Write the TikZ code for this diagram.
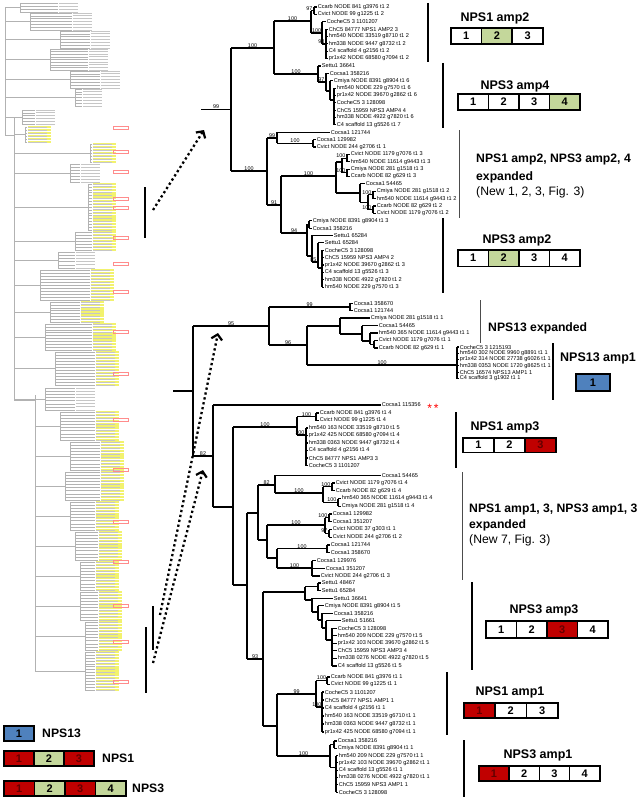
\documentclass[tikz,border=0pt]{standalone}
\usepackage{fontspec}
\setmainfont{Liberation Sans}
\usetikzlibrary{arrows.meta}
\definecolor{cgreen}{RGB}{196,215,155}
\definecolor{cred}{RGB}{192,0,0}
\definecolor{cblue}{RGB}{79,129,189}
\definecolor{dred}{RGB}{100,0,0}
\definecolor{ovy}{RGB}{242,242,110}
\newcounter{nid}
\tikzset{
  br/.style={line width=1.1pt},
  tb/.style={line width=2pt},
  lf/.style={anchor=west,inner sep=0.7pt,font=\fontsize{5.6}{5.6}\selectfont},
  bsl/.style={anchor=south,inner sep=0.4pt,font=\fontsize{5.4}{5.4}\selectfont},
  bse/.style={anchor=south east,inner sep=0.4pt,font=\fontsize{5.4}{5.4}\selectfont},
  ttl/.style={inner sep=0pt,font=\bfseries\fontsize{12.5}{14}\selectfont},
  txt/.style={inner sep=0pt,anchor=west,font=\bfseries\fontsize{12.2}{14}\selectfont},
  ntxt/.style={inner sep=0pt,anchor=west,font=\fontsize{12.2}{14}\selectfont},
  cell/.style={draw=black,line width=1.7pt,inner sep=0pt,anchor=north west,font=\bfseries\fontsize{11}{11}\selectfont},
  ov/.style={draw=gray!60,line width=0.35pt},
  thinbar/.style={draw=gray!60!black,line width=1pt},
  thickbar/.style={draw=black,line width=2.6pt},
  darr/.style={line width=2.3pt,dash pattern=on 2.3pt off 2.7pt,-{Straight Barb[length=5pt,width=11pt,line width=2.2pt]}},
}
\newcommand\Nx{\stepcounter{nid}}
\newcommand\Hb[3]{\draw[br] (#1,#3) -- (#2,#3);}
\newcommand\Hbl[4]{\draw[br] (#1,#3) -- (#2,#3); \Nx\node[bsl] (b\arabic{nid}) at ({(#1+#2)/2},#3) {#4};}
\newcommand\Vb[3]{\draw[br] (#1,#2) -- (#1,#3);}
\newcommand\Bl[3]{\Nx\node[bse] (b\arabic{nid}) at (#1,#2) {#3};}
\newcommand\Lf[4]{\draw[br] (#1,#2) -- (#3,#2); \Nx\node[lf] (l\arabic{nid}) at (#3,#2) {#4};}
\newcommand\Pair[6]{\draw[br] (#1,#2) -- (#1,#3); \Lf{#1}{#2}{#4}{#5}\Lf{#1}{#3}{#4}{#6}}
\newcommand\Tv[6]{\draw[tb] (#1,#2) -- (#1,#3);
  \foreach \tx [count=\i from 0] in {#6} {\pgfmathsetmacro\yy{#2+(#3-#2)*\i/(#5-1)}\Lf{#1}{\yy}{#4}{\tx}}}
\newcommand\Ovc[7]{%
  \pgfmathsetmacro\ovm{(#3+#4)/2}
  \draw[ov] (#1,\ovm) -- (#2,\ovm);
  \draw[ov] (#2,#3) -- (#2,#4);
  \pgfmathtruncatemacro\ovn{#6-1}
  \foreach \k in {0,...,\ovn} {
    \pgfmathsetmacro\yy{#3+(#4-#3)*\k/\ovn}
    \draw[ov] (#2,\yy) -- (#5,\yy);
    \ifnum#7=1 \fill[ovy] (#5+1,\yy-1.1) rectangle (#5+24,\yy+1.1);\fi
    \fill[gray!45] (#5+1,\yy-0.4) rectangle (#5+20,\yy+0.4);
  }}
\newcommand\Cellrow[6]{\foreach \f/\d/\c [count=\i] in {#6} {\node[cell,fill=\f,text=\c,minimum width=#4pt,minimum height=#5pt] (#1\i) at ({#2+(\i-1)*#4},#3) {\d};}}
\begin{document}
\begin{tikzpicture}[x=1pt,y=-1pt]
\useasboundingbox (0,0) rectangle (642,800);
% ================= overview tree =================
\draw[ov] (5,7) -- (5,135) -- (14,135);
\draw[ov] (14,118) -- (14,400) -- (35,400);
\draw[ov] (35,395) -- (35,671);
\Ovc{5}{20}{3}{12}{58}{4}{0}
\Ovc{5}{30}{13}{30}{72}{7}{0}
\Ovc{5}{60}{31}{48}{90}{7}{0}
\Ovc{5}{50}{49}{70}{88}{9}{0}
\Ovc{5}{70}{71}{88}{100}{7}{0}
\Ovc{5}{75}{89}{106}{82}{7}{0}
\Ovc{5}{22}{110}{124}{35}{6}{0}
\Ovc{14}{25}{127}{142}{27}{6}{1}
\Ovc{14}{90}{144}{162}{92}{7}{1}
\Ovc{14}{70}{164}{182}{80}{7}{0}
\Ovc{14}{88}{184}{230}{92}{17}{1}
\Ovc{14}{75}{232}{250}{92}{7}{1}
\Ovc{14}{58}{252}{268}{75}{6}{0}
\Ovc{14}{40}{270}{300}{90}{11}{1}
\Ovc{14}{50}{302}{322}{80}{8}{1}
\Ovc{14}{45}{324}{350}{92}{10}{1}
\Ovc{14}{55}{352}{385}{95}{12}{1}
\Ovc{14}{45}{388}{410}{75}{8}{0}
\Ovc{35}{60}{412}{440}{95}{10}{1}
\Ovc{35}{70}{442}{470}{100}{10}{1}
\Ovc{35}{65}{472}{500}{100}{10}{1}
\Ovc{35}{70}{502}{530}{95}{10}{1}
\Ovc{35}{75}{532}{560}{98}{10}{1}
\Ovc{35}{80}{562}{590}{95}{10}{1}
\Ovc{35}{80}{592}{620}{98}{10}{1}
\Ovc{35}{85}{622}{650}{98}{10}{1}
\Ovc{35}{85}{652}{690}{95}{14}{1}
\foreach \yy in {126,150,170,197,206,236,262,290,330,372,418,468,520,560,604,640,680}
  \draw[red!45,line width=0.3pt] (113,\yy) rectangle (128,\yy+3.5);
% ================= marker bars and arrows =================
\draw[thickbar] (145,187) -- (145,238);
\draw[thickbar] (153,606) -- (153,650);
\draw[thickbar] (146,627) -- (146,693);
\coordinate (a1s) at (153,210); \coordinate (a1e) at (204,130);
\coordinate (a2s) at (160,615); \coordinate (a2e) at (218,333);
\coordinate (a3s) at (153,663); \coordinate (a3e) at (203,470);
\draw[darr] (a1s) -- (a1e);
\draw[darr] (a2s) -- (a2e);
\draw[darr] (a3s) -- (a3e);
% ================= top subtree =================
\Hbl{201}{231}{109.5}{99}
\Vb{231}{48}{171}
\Hbl{231}{274}{48}{100}
\Vb{274}{21}{74}
\Hbl{274}{311}{21}{100}
\Vb{311}{10.7}{33}
\Hb{311}{314}{10.7}\Bl{313}{10.7}{97}
\Pair{314}{7}{14.37}{317}{Ccarb NODE 841 g3976 t1 2}{Cvict NODE 99 g1225 t1 2}
\Hbl{311}{322}{33}{100}
\Vb{322}{21.74}{44}
\Lf{322}{21.74}{326}{CocheC5 3 1101207}
\Hb{322}{326}{44}\Bl{325}{44}{93}
\Tv{326}{29.11}{58.59}{328}{5}{ChC5 84777 NPS1 AMP2 3,hm540 NODE 33519 g8710 t1 2,hm338 NODE 9447 g8732 t1 2,C4 scaffold 4 g2156 t1 2,pr1x42 NODE 68580 g7094 t1 2}
\Hbl{274}{318}{74}{100}
\Vb{318}{65.96}{82}
\Lf{318}{65.96}{321}{Settu1 36641}
\Hb{318}{326}{82}\Bl{325}{82}{97}
\Vb{326}{73.33}{91}
\Lf{326}{73.33}{329}{Cocsa1 358216}
\Hb{326}{330}{91}
\Vb{330}{80.7}{100}
\Lf{330}{80.7}{333}{Cmiya NODE 8391 g8904 t1 6}
\Hb{330}{334}{100}
\Tv{334}{88.07}{124.92}{336}{6}{hm540 NODE 229 g7570 t1 6,pr1x42 NODE 39670 g2862 t1 6,CocheC5 3 128098,ChC5 15959 NPS3 AMP4 4,hm338 NODE 4922 g7820 t1 6,C4 scaffold 13 g5526 t1 7}
\Hbl{231}{267}{171}{100}
\Vb{267}{138}{205}
\Hbl{267}{277}{138}{99}
\Vb{277}{132.29}{143.3}
\Lf{277}{132.29}{330}{Cocsa1 121744}
\Hbl{277}{313}{143.3}{100}
\Pair{313}{139.66}{147.03}{316}{Cocsa1 129982}{Cvict NODE 244 g2706 t1 1}
\Hbl{267}{281}{205}{91}
\Vb{281}{176}{233}
\Hbl{281}{336}{176}{100}
\Vb{336}{162}{193}
\Hb{336}{342}{162}
\Vb{342}{158.1}{172.8}
\Hb{342}{347}{158.1}\Bl{346}{158.1}{100}
\Pair{347}{154.4}{161.77}{350}{Cvict NODE 1179 g7076 t1 3}{hm540 NODE 11614 g9443 t1 3}
\Hb{342}{347}{172.8}\Bl{346}{172.8}{100}
\Pair{347}{169.14}{176.51}{350}{Cmiya NODE 281 g1518 t1 3}{Ccarb NODE 82 g629 t1 3}
\Hb{336}{360}{193}
\Vb{360}{183.88}{202.3}
\Lf{360}{183.88}{365}{Cocsa1 54465}
\Hb{360}{368}{202.3}
\Vb{368}{194.9}{209.7}
\Hb{368}{373}{194.9}\Bl{372}{194.9}{100}
\Pair{373}{191.25}{198.62}{376}{Cmiya NODE 281 g1518 t1 2}{hm540 NODE 11614 g9443 t1 2}
\Hb{368}{373}{209.7}\Bl{372}{209.7}{100}
\Pair{373}{205.99}{213.36}{376}{Ccarb NODE 82 g629 t1 2}{Cvict NODE 1179 g7076 t1 2}
\Hbl{281}{307}{233}{94}
\Vb{307}{224.4}{256}
\Hb{307}{309}{224.4}
\Pair{309}{220.73}{228.1}{312}{Cmiya NODE 8391 g8904 t1 3}{Cocsa1 358216}
\Hb{307}{312}{256}
\Vb{312}{235.47}{262}
\Lf{312}{235.47}{333}{Settu1 65284}
\Hb{312}{318}{262}\Bl{317}{262}{85}
\Vb{318}{242.84}{268}
\Lf{318}{242.84}{324}{Settu1 65284}
\Hb{318}{322}{268}
\Tv{322}{250.21}{287.06}{324}{6}{CocheC5 3 128098,ChC5 15959 NPS3 AMP4 2,pr1x42 NODE 39670 g2862 t1 3,C4 scaffold 13 g5526 t1 3,hm338 NODE 4922 g7820 t1 2,hm540 NODE 229 g7570 t1 3}
% ================= bottom subtree =================
\Hb{173}{193}{391}
\Vb{193}{326}{456}
\Hbl{193}{269}{326}{95}
\Vb{269}{307}{345}
\Hbl{269}{350}{307}{99}
\Pair{350}{303.3}{310.7}{353}{Cocsa1 358670}{Cocsa1 121744}
\Hbl{269}{307}{345}{96}
\Vb{307}{326}{365}
\Hb{307}{340}{326}
\Vb{340}{318}{334}
\Lf{340}{318}{370}{Cmiya NODE 281 g1518 t1 1}
\Hb{340}{362}{334}
\Vb{362}{325.5}{341}
\Lf{362}{325.5}{378}{Cocsa1 54465}
\Hb{362}{370}{341}
\Vb{370}{333}{344.2}
\Lf{370}{333}{378}{hm540 365 NODE 11614 g9443 t1 1}
\Hb{370}{374}{344.2}
\Pair{374}{340.5}{348}{378}{Cvict NODE 1179 g7076 t1 1}{Ccarb NODE 82 g629 t1 1}
\Hbl{307}{457}{365}{100}
\Tv{457}{347}{378.5}{459}{6}{CocheC5 3 1215193,hm540 302 NODE 9960 g8891 t1 1,pr1x42 314 NODE 27738 g6026 t1 1,hm338 0353 NODE 1720 g8625 t1 1,ChC5 16574 NPS13 AMP1 1,C4 scaffold 3 g1902 t1 1}
\Hbl{193}{213}{456}{82}
\Vb{213}{405}{507}
\Lf{213}{405}{381}{Cocsa1 115356}
\node[text=red,inner sep=0pt,font=\fontsize{12}{12}\selectfont] (ast) at (433,408) {*\,*};
\Hb{213}{233}{507}
\Vb{233}{427}{585}
\Hbl{233}{297}{427}{100}
\Vb{297}{416.7}{435}
\Hbl{297}{316}{416.7}{100}
\Pair{316}{413}{420.5}{319}{Ccarb NODE 841 g3976 t1 4}{Cvict NODE 99 g1225 t1 4}
\Hb{297}{306}{435}\Bl{305}{435}{100}
\Tv{306}{428}{465.5}{308}{6}{hm540 163 NODE 33519 g8710 t1 5,pr1x42 425 NODE 68580 g7094 t1 4,hm338 0363 NODE 9447 g8732 t1 4,C4 scaffold 4 g2156 t1 4,ChC5 84777 NPS1 AMP3 3,CocheC5 3 1101207}
\Hb{233}{247}{585}
\Vb{247}{513}{659}
\Hb{247}{258}{513}
\Vb{258}{485}{540}
\Hbl{258}{275}{485}{82}
\Vb{275}{475.25}{493}
\Lf{275}{475.25}{381}{Cocsa1 54465}
\Hbl{275}{323}{493}{100}
\Vb{323}{486.9}{502.4}
\Hb{323}{332}{486.9}\Bl{331}{486.9}{100}
\Pair{332}{483}{490.75}{335}{Cvict NODE 1179 g7076 t1 4}{Ccarb NODE 82 g629 t1 4}
\Hb{323}{338}{502.4}\Bl{337}{502.4}{100}
\Pair{338}{498.5}{506.25}{341}{hm540 365 NODE 11614 g9443 t1 4}{Cmiya NODE 281 g1518 t1 4}
\Hb{258}{267}{540}
\Vb{267}{525}{558}
\Hbl{267}{325}{525}{100}
\Vb{325}{517.9}{533.4}
\Hb{325}{329}{517.9}\Bl{328}{517.9}{100}
\Pair{329}{514}{521.75}{332}{Cocsa1 129982}{Cocsa1 351207}
\Hb{325}{329}{533.4}\Bl{328}{533.4}{97}
\Pair{329}{529.5}{537.25}{332}{Cvict NODE 37 g303 t1 1}{Cvict NODE 244 g2706 t1 2}
\Hb{267}{277}{558}
\Vb{277}{548.9}{568}
\Hbl{277}{327}{548.9}{100}
\Pair{327}{545}{552.75}{330}{Cocsa1 121744}{Cocsa1 358670}
\Hbl{277}{312}{568}{100}
\Vb{312}{560.5}{576}
\Lf{312}{560.5}{316}{Cocsa1 129976}
\Lf{312}{568.25}{325}{Cocsa1 351207}
\Lf{312}{576}{320}{Cvict NODE 244 g2706 t1 3}
\Hbl{247}{263}{659}{93}
\Vb{263}{592}{726}
\Hb{263}{305}{592}
\Vb{305}{586.8}{600}
\Hb{305}{318}{586.8}
\Pair{318}{583}{590.5}{321}{Settu1 48467}{Settu1 65284}
\Hb{305}{312}{600}
\Vb{312}{598.1}{612}
\Lf{312}{598.1}{333}{Settu1 36641}
\Hb{312}{318}{612}
\Vb{318}{605.6}{620}
\Lf{318}{605.6}{324}{Cmiya NODE 8391 g8904 t1 5}
\Hb{318}{322}{620}
\Vb{322}{613.2}{628}
\Lf{322}{613.2}{333}{Cocsa1 358216}
\Hb{322}{326}{628}
\Vb{326}{620.7}{640}
\Lf{326}{620.7}{341}{Settu1 51661}
\Hb{326}{332}{640}
\Tv{332}{628.3}{666}{337}{6}{CocheC5 3 128098,hm540 209 NODE 229 g7570 t1 5,pr1x42 103 NODE 39670 g2862 t1 5,ChC5 15959 NPS3 AMP3 4,hm338 0276 NODE 4922 g7820 t1 5,C4 scaffold 13 g5526 t1 5}
\Hb{263}{277}{726}
\Vb{277}{694}{756}
\Hbl{277}{316}{694}{99}
\Vb{316}{680.6}{707}
\Hbl{316}{327}{680.6}{100}
\Pair{327}{677}{684.3}{330}{Ccarb NODE 841 g3976 t1 1}{Cvict NODE 99 g1225 t1 1}
\Hb{316}{322}{707}\Bl{322}{707}{100}
\Tv{322}{692}{732}{324}{6}{CocheC5 3 1101207,ChC5 84777 NPS1 AMP1 1,C4 scaffold 4 g2156 t1 1,hm540 163 NODE 33519 g6710 t1 1,hm338 0363 NODE 9447 g8732 t1 1,pr1x42 425 NODE 68580 g7094 t1 1}
\Hbl{277}{330}{756}{100}
\Vb{330}{744.7}{767.4}
\Hb{330}{334}{744.7}
\Pair{334}{741}{748.3}{337}{Cocsa1 358216}{Cmiya NODE 8391 g8904 t1 1}
\Hb{330}{336}{767.4}
\Tv{336}{755.6}{792.1}{338}{6}{hm540 209 NODE 229 g7570 t1 1,pr1x42 103 NODE 39670 g2862 t1 1,C4 scaffold 13 g5526 t1 1,hm338 0276 NODE 4922 g7820 t1 1,ChC5 15959 NPS3 AMP1 1,CocheC5 3 128098}
% ================= right panel =================
\draw[thickbar] (428,3) -- (428,62);
\node[ttl] (t1) at (495,18) {NPS1 amp2};
\Cellrow{a}{450}{27}{30.7}{16}{white/1/black,cgreen/2/black,white/3/black}
\draw[thickbar] (443,63) -- (443,128);
\node[ttl] (t2) at (515,86) {NPS3 amp4};
\Cellrow{b}{457}{93}{30.5}{16}{white/1/black,white/2/black,white/3/black,cgreen/4/black}
\draw[thinbar] (459,130) -- (459,218);
\node[txt] (t3) at (476,160) {NPS1 amp2, NPS3 amp2, 4};
\node[txt] (t3b) at (476,177) {expanded};
\node[ntxt] (t3c) at (476,192) {(New 1, 2, 3, Fig. 3)};
\draw[thickbar] (443,218) -- (443,293);
\node[ttl] (t4) at (517,240) {NPS3 amp2};
\Cellrow{c}{457}{249}{30.5}{16.5}{white/1/black,cgreen/2/black,white/3/black,white/4/black}
\draw[thinbar] (480,300) -- (480,343);
\node[txt] (t5) at (488,328) {NPS13 expanded};
\draw[thickbar] (553,343) -- (553,400);
\node[ttl] (t6) at (598,358) {NPS13 amp1};
\Cellrow{d}{575}{373}{34}{17}{cblue/1/black}
\draw[thickbar] (456,412) -- (456,468);
\node[ttl] (t7) at (505,427) {NPS1 amp3};
\Cellrow{e}{462}{437}{31}{14.5}{white/1/black,white/2/black,cred/3/dred}
\draw[thinbar] (462,472) -- (462,580);
\node[txt] (t8) at (469,510) {NPS1 amp1, 3, NPS3 amp1, 3};
\node[txt] (t8b) at (469,525) {expanded};
\node[ntxt] (t8c) at (469,540) {(New 7, Fig. 3)};
\draw[thickbar] (472,582) -- (472,670);
\node[ttl] (t9) at (544,610) {NPS3 amp3};
\Cellrow{f}{485}{620}{30.5}{17}{white/1/black,white/2/black,cred/3/dred,white/4/black}
\draw[thickbar] (447,672) -- (447,735);
\node[ttl] (t10) at (510,692) {NPS1 amp1};
\Cellrow{g}{463}{702}{31.3}{15}{cred/1/dred,white/2/black,white/3/black}
\draw[thickbar] (464,740) -- (464,797);
\node[ttl] (t11) at (538,755) {NPS3 amp1};
\Cellrow{h}{478}{765}{30.25}{15}{cred/1/dred,white/2/black,white/3/black,white/4/black}
% ================= legend =================
\Cellrow{la}{3}{725}{30}{15}{cblue/1/black}
\node[txt] (lt1) at (42,733) {NPS13};
\Cellrow{lb}{3}{750}{30}{15}{cred/1/dred,cgreen/2/black,cred/3/dred}
\node[txt] (lt2) at (102,758) {NPS1};
\Cellrow{lc}{3}{780}{30.5}{15}{cred/1/dred,cgreen/2/black,cred/3/dred,cgreen/4/black}
\node[txt] (lt3) at (132,788) {NPS3};
\end{tikzpicture}
\end{document}
